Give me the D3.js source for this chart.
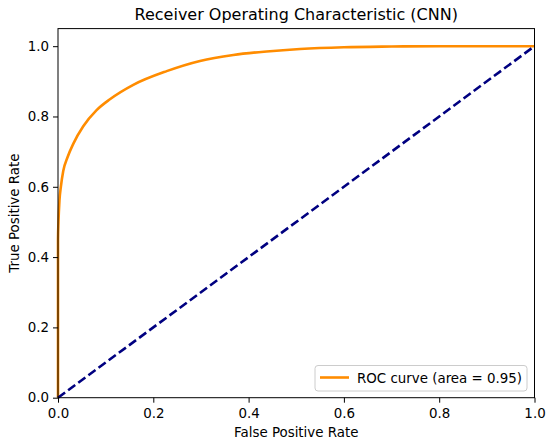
<!DOCTYPE html>
<html>
<head>
<meta charset="utf-8">
<script src="https://cdn.jsdelivr.net/npm/d3@7"></script>
<style>
  body { margin: 0; background: #fff; }
  svg text { font-family: "DejaVu Sans", sans-serif; fill: #000; }
</style>
</head>
<body>
<svg width="550" height="444"></svg>
<script>
// ROC curve points
const fpr = [0, 0, 0.001, 0.003, 0.006, 0.011, 0.02, 0.032, 0.053, 0.081, 0.109, 0.158, 0.228, 0.298, 0.368, 0.438, 0.508, 0.6, 0.7, 0.8, 0.9, 1.0];
const tpr = [0, 0.45, 0.5, 0.56, 0.6, 0.645, 0.684, 0.722, 0.772, 0.818, 0.849, 0.89, 0.929, 0.958, 0.975, 0.985, 0.992, 0.997, 0.999, 1.0, 1.0, 1.0];
const chance = [0, 1];
const ticks = [0, 0.2, 0.4, 0.6, 0.8, 1.0];
const legendLabel = 'ROC curve (area = 0.95)';

const svg = d3.select('svg');
const plotLeft = 58, plotRight = 534.5, plotTop = 28.6, plotBottom = 397.7;
const fontSize = '13.4px';

const x = d3.scaleLinear().domain([0, 1]).range([plotLeft, plotRight]);
const y = d3.scaleLinear().domain([0, 1.05]).range([plotBottom, plotTop]);

const line = d3.line().x(d => x(d[0])).y(d => y(d[1])).curve(d3.curveMonotoneX);

svg.append('path')
  .datum(fpr.map((f, i) => [f, tpr[i]]))
  .attr('d', line)
  .attr('fill', 'none')
  .attr('stroke', 'darkorange')
  .attr('stroke-width', 2.6)
  .attr('stroke-linejoin', 'round');

svg.append('path')
  .datum(chance.map(v => [v, v]))
  .attr('d', d3.line().x(d => x(d[0])).y(d => y(d[1])))
  .attr('fill', 'none')
  .attr('stroke', 'navy')
  .attr('stroke-width', 2.6)
  .attr('stroke-dasharray', '8.8,3.8');

// frame
svg.append('rect')
  .attr('x', plotLeft).attr('y', plotTop)
  .attr('width', plotRight - plotLeft).attr('height', plotBottom - plotTop)
  .attr('fill', 'none').attr('stroke', '#000').attr('stroke-width', 1);

// axes
const fmt = d3.format('.1f');
const xAxis = svg.append('g')
  .attr('transform', `translate(0,${plotBottom})`)
  .call(d3.axisBottom(x).tickValues(ticks).tickFormat(fmt).tickSize(5).tickPadding(6));
const yAxis = svg.append('g')
  .attr('transform', `translate(${plotLeft},0)`)
  .call(d3.axisLeft(y).tickValues(ticks).tickFormat(fmt).tickSize(5).tickPadding(4));

[xAxis, yAxis].forEach(g => {
  g.select('.domain').remove();
  g.selectAll('line').attr('stroke', '#000');
  g.selectAll('text')
    .style('font-family', '"DejaVu Sans", sans-serif')
    .style('font-size', fontSize)
    .attr('fill', '#000');
});

// title and labels
svg.append('text')
  .attr('x', (plotLeft + plotRight) / 2).attr('y', 20)
  .attr('text-anchor', 'middle')
  .style('font-size', '16px')
  .text('Receiver Operating Characteristic (CNN)');

svg.append('text')
  .attr('x', (plotLeft + plotRight) / 2).attr('y', 437)
  .attr('text-anchor', 'middle')
  .style('font-size', fontSize)
  .text('False Positive Rate');

svg.append('text')
  .attr('transform', `translate(19,${(plotTop + plotBottom) / 2}) rotate(-90)`)
  .attr('text-anchor', 'middle')
  .style('font-size', fontSize)
  .text('True Positive Rate');

// legend
const lg = svg.append('g');
lg.append('rect')
  .attr('x', 315).attr('y', 365.5)
  .attr('width', 212).attr('height', 25.5)
  .attr('rx', 3)
  .attr('fill', '#fff').attr('fill-opacity', 0.8)
  .attr('stroke', '#ccc').attr('stroke-width', 1);
lg.append('line')
  .attr('x1', 320).attr('x2', 349).attr('y1', 377.5).attr('y2', 377.5)
  .attr('stroke', 'darkorange').attr('stroke-width', 2.6);
lg.append('text')
  .attr('x', 357).attr('y', 383)
  .style('font-size', fontSize)
  .text(legendLabel);
</script>
</body>
</html>
